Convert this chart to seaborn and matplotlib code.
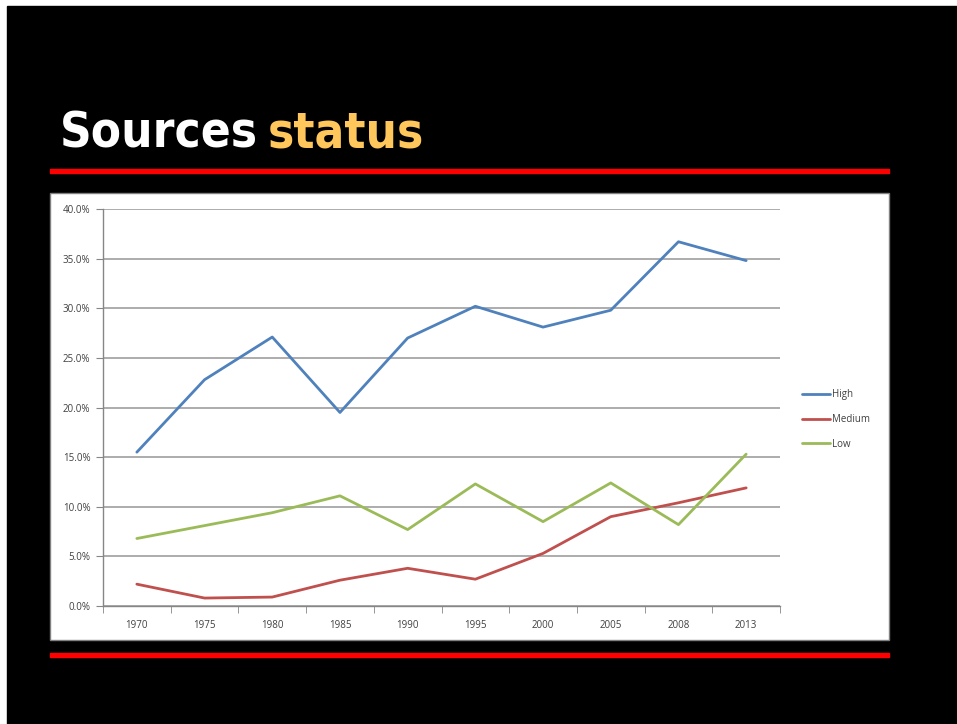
import pandas as pd
import matplotlib.pyplot as plt
import matplotlib.ticker as mticker
from matplotlib.patches import Rectangle
import seaborn as sns

years = ['1970', '1975', '1980', '1985', '1990', '1995', '2000', '2005', '2008', '2013']
high = [15.5, 22.8, 27.1, 19.5, 27.0, 30.2, 28.1, 29.8, 36.7, 34.8]
medium = [2.2, 0.8, 0.9, 2.6, 3.8, 2.7, 5.3, 9.0, 10.4, 11.9]
low = [6.8, 8.1, 9.4, 11.1, 7.7, 12.3, 8.5, 12.4, 8.2, 15.3]
series = ['High', 'Medium', 'Low']
colors = ['#4F81BD', '#C0504D', '#9BBB59']

df = pd.DataFrame({'Year': years * 3,
                   'Value': high + medium + low,
                   'Series': [s for s in series for _ in years]})

sns.set_style('white')
plt.rcParams['font.family'] = ['Open Sans', 'DejaVu Sans']

W, H = 957, 724
fig = plt.figure(figsize=(W / 100, H / 100), dpi=100)
fig.patch.set_facecolor('white')

def px(x0, y0, x1, y1):
    # pixel box -> figure fraction rectangle
    return (x0 / W, 1 - y1 / H), (x1 - x0) / W, (y1 - y0) / H

# black slide
xy, w, h = px(7, 6, 957, 724)
fig.patches.append(Rectangle(xy, w, h, transform=fig.transFigure, color='black', zorder=0))
# red rules
for y in (171, 655):
    xy, w, h = px(50, y - 2, 889, y + 2)
    fig.patches.append(Rectangle(xy, w, h, transform=fig.transFigure, color='#FF0000', zorder=1))
# white chart box
xy, w, h = px(50, 193, 889, 640)
fig.patches.append(Rectangle(xy, w, h, transform=fig.transFigure, facecolor='white',
                             edgecolor='#808080', linewidth=1, zorder=1))

# title: fit "Sources" to its width in the reference, then put "status" after it
title_font = dict(fontweight='bold', fontstretch='condensed', va='baseline', ha='left',
                  family=['DejaVu Sans'])
t1 = fig.text(60 / W, 1 - 147 / H, 'Sources', color='white', fontsize=40, **title_font)
renderer = fig.canvas.get_renderer()
bb = t1.get_window_extent(renderer)
size = 40 * 198 / bb.width
t1.set_fontsize(size)
bb = t1.get_window_extent(renderer)
t2 = fig.text((bb.x1 + 10) / W, 1 - 147 / H, 'status', color='#FFC65C', fontsize=size,
              **title_font)

xy, w, h = px(103, 209, 780, 606)
ax = fig.add_axes([xy[0], xy[1], w, h])
ax.set_facecolor('white')
ax.set_zorder(2)

sns.lineplot(data=df, x='Year', y='Value', hue='Series', palette=colors,
             linewidth=2, ax=ax, legend=True)

ax.set_xlim(-0.5, len(years) - 0.5)
ax.set_ylim(0, 40)
ax.yaxis.set_major_locator(mticker.MultipleLocator(5))
ax.yaxis.set_major_formatter(mticker.FuncFormatter(lambda v, p: f'{v:.1f}%'))
ax.set_xticks(range(len(years)))
ax.set_xticklabels(years)
ax.set_xticks([i - 0.5 for i in range(len(years) + 1)], minor=True)
ax.tick_params(axis='x', which='major', length=0, pad=10, labelsize=7, labelcolor='#404040')
ax.tick_params(axis='x', which='minor', length=5, color='#868686', direction='out', bottom=True)
ax.tick_params(axis='y', length=5, color='#868686', direction='out', left=True,
               labelsize=7, labelcolor='#404040', pad=4)
ax.grid(axis='y', color='#A6A6A6', linewidth=1.3)
ax.set_axisbelow(True)
for side in ('top', 'right'):
    ax.spines[side].set_visible(False)
for side in ('left', 'bottom'):
    ax.spines[side].set_color('#868686')
    ax.spines[side].set_linewidth(1)
ax.set_xlabel('')
ax.set_ylabel('')

leg = ax.legend(loc='center left', bbox_to_anchor=(1.02, 0.47), frameon=False,
                fontsize=7, handlelength=2.8, handletextpad=0.3, labelspacing=1.4)
for t in leg.get_texts():
    t.set_color('#404040')

plt.savefig('out.png', dpi=100, facecolor=fig.get_facecolor())
